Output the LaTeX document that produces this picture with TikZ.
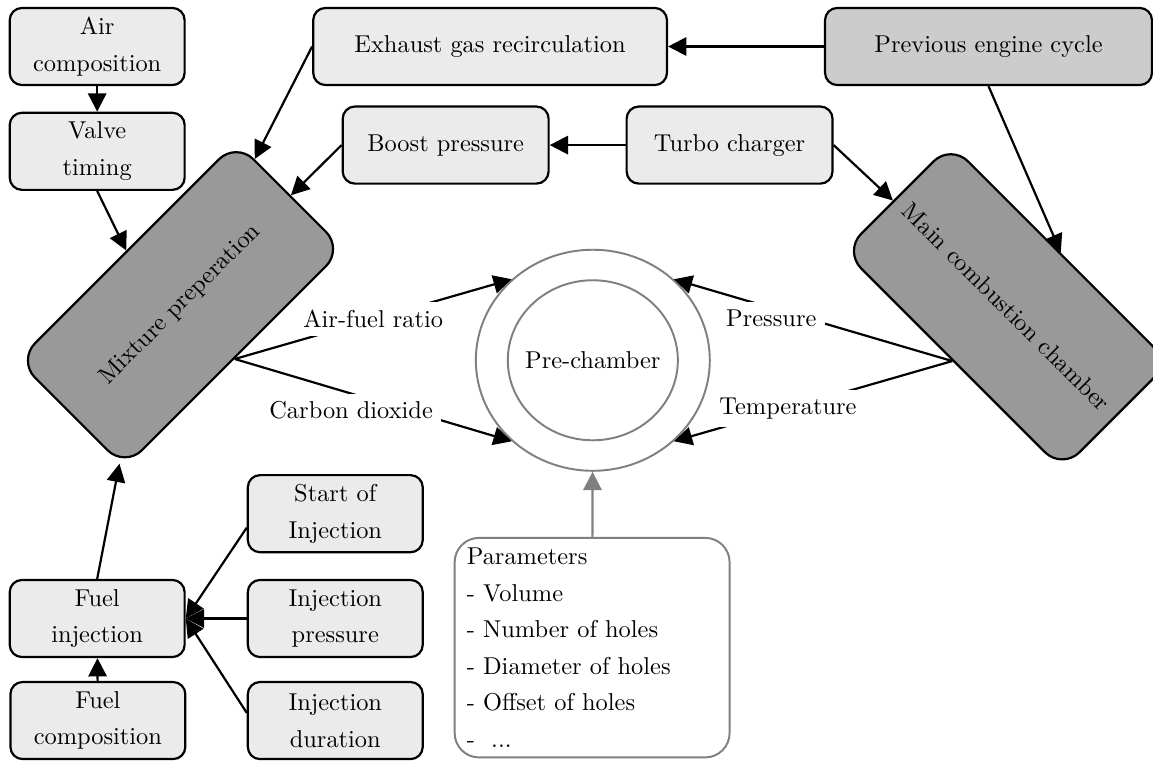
\documentclass[tikz,border=0pt]{standalone}
\usepackage{amsmath, amssymb}
\usepackage{tikz}
\usetikzlibrary{positioning}
\usetikzlibrary{arrows.meta}
\usetikzlibrary{shapes}
\usetikzlibrary{shapes.geometric}
\linespread{1.25}
\tikzset{
    InfoBox/.style={draw, line width=0.9pt, rounded corners=5pt, fill=black!8, minimum width=71.7pt, minimum height=31.6pt, align=center},
    ChamberBox/.style={draw, line width=0.9pt, rounded corners=10pt, fill=black!40, minimum width=126.6pt, minimum height=62pt},
    FlowArrow/.style={line width=0.9pt, -{Triangle[length=7.5pt,width=7.5pt]}},
    FlowLabel/.style={fill=white},
    ChamberRing/.style={draw=gray, thick, ellipse, inner sep=0pt}
}

\begin{document}
\begin{tikzpicture}
            \useasboundingbox (0,0) rectangle (16.61,-10.95);

            % left column
            \node[InfoBox] (aircomp) at (1.40,-0.67) {Air\\composition};
            \node[InfoBox] (valve) at (1.40,-2.18) {Valve\\timing};
            \node[InfoBox] (fuelinj) at (1.40,-8.91) {Fuel\\injection};
            \node[InfoBox] (fuelcomp) at (1.41,-10.38) {Fuel\\composition};
            \node[InfoBox] (soi) at (4.83,-7.40) {Start of\\Injection};
            \node[InfoBox] (injpress) at (4.83,-8.91) {Injection\\pressure};
            \node[InfoBox] (injdur) at (4.83,-10.38) {Injection\\duration};

            % top rows
            \node[InfoBox, minimum width=145pt] (egr) at (7.06,-0.67) {Exhaust gas recirculation};
            \node[InfoBox, minimum width=134pt, fill=black!20] (prevcycle) at (14.24,-0.67) {Previous engine cycle};
            \node[InfoBox, minimum width=84.4pt] (boost) at (6.42,-2.09) {Boost pressure};
            \node[InfoBox, minimum width=84.4pt] (turbo) at (10.51,-2.09) {Turbo charger};

            % chambers
            \node[ChamberBox, rotate=45] (mixprep) at (2.60,-4.39) {Mixture preperation};
            \node[ChamberBox, rotate=-45] (maincc) at (14.50,-4.42) {Main combustion chamber};
            \node[ChamberRing, minimum width=95.9pt, minimum height=90.6pt] (outer) at (8.54,-5.19) {};
            \node[ChamberRing, minimum width=69.7pt, minimum height=65.6pt] (prech) at (8.54,-5.19) {\makebox[0pt]{Pre-chamber}};
            \node[draw=gray, thick, rounded corners=10pt, text width=102.7pt, align=left, inner xsep=5pt, minimum height=90pt] (params) at (8.53,-9.33)
                {Parameters\\- Volume\\- Number of holes\\- Diameter of holes\\- Offset of holes\\- \ ...};

            \draw[FlowArrow] (aircomp) -- (valve);
            \draw[FlowArrow] (valve.south) -- (mixprep.north);
            \draw[FlowArrow] (egr.west) -- (mixprep);
            \draw[FlowArrow] (boost.west) -- (mixprep);
            \draw[FlowArrow] (fuelinj.north) -- (mixprep.204);
            \draw[FlowArrow] (fuelcomp) -- (fuelinj);
            \draw[FlowArrow] (soi.189) -- (fuelinj.east);
            \draw[FlowArrow] (injpress) -- (fuelinj.east);
            \draw[FlowArrow] (injdur.175) -- (fuelinj.east);
            \draw[FlowArrow] (prevcycle) -- (egr);
            \draw[FlowArrow] (turbo) -- (boost);
            \draw[FlowArrow] (turbo.east) -- (maincc);
            \draw[FlowArrow] (prevcycle.south) -- (maincc.north);

            % into the pre-chamber
            \draw[FlowArrow] (mixprep.south) -- node[FlowLabel] {Air-fuel ratio} (outer.135);
            \draw[FlowArrow] (mixprep.south) -- node[FlowLabel, pos=0.42, yshift=-7pt] {Carbon dioxide} (outer.225);
            \draw[FlowArrow] (maincc.south) -- node[FlowLabel, pos=0.65, yshift=-4.3pt] {Pressure} (outer.45);
            \draw[FlowArrow] (maincc.south) -- node[FlowLabel, pos=0.59] {Temperature} (outer.315);
            \draw[FlowArrow, gray] (params) -- (outer);
        \end{tikzpicture}
\end{document}
